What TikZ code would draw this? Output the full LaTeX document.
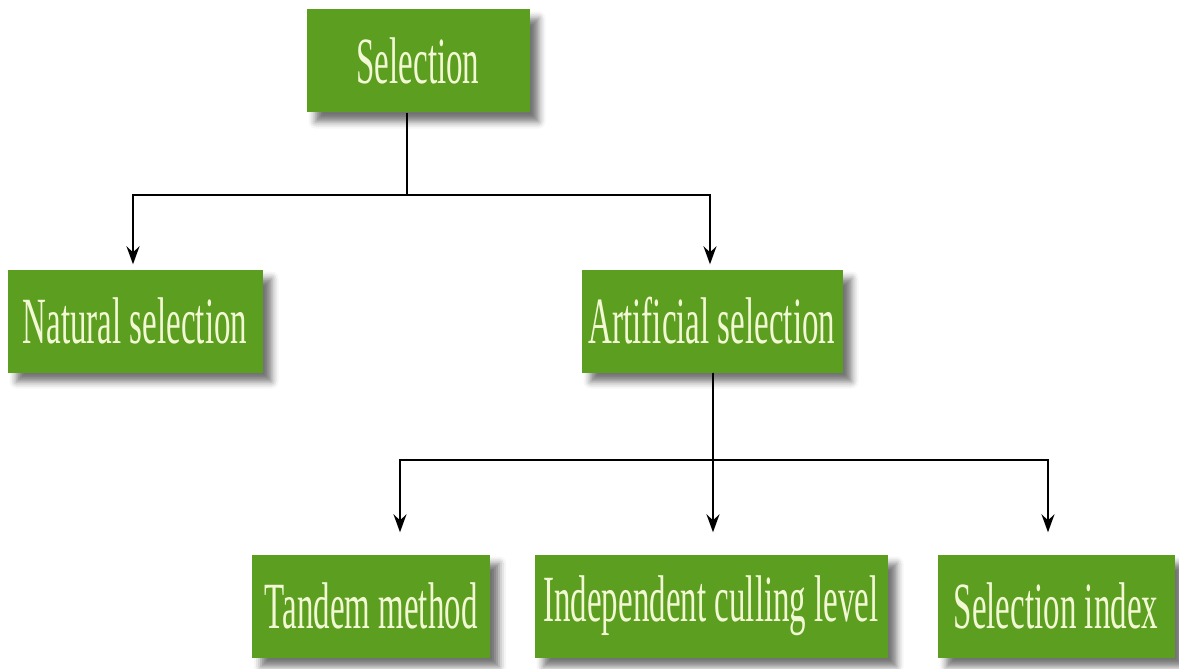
\documentclass[tikz,border=0pt]{standalone}
\usepackage{fontspec}
\newfontfamily\boxfont[FakeStretch=0.5]{Liberation Serif}
\usepackage{xcolor}
\usepackage{tikz}
\usetikzlibrary{arrows.meta,shadows.blur}
\definecolor{selgreen}{RGB}{92,158,32}
\definecolor{seltext}{RGB}{242,248,212}
\tikzset{
  sel_n/.style = {rectangle, fill=selgreen, text=seltext, minimum height=103pt, inner sep=0pt, align=center, font=\boxfont\fontsize{66}{66}\selectfont, blur shadow={shadow xshift=9pt, shadow yshift=-9pt, shadow blur radius=7pt, shadow opacity=55}},
  sel_a/.style = {line width=1.8pt, -{Stealth[length=18pt,width=13pt,inset=6pt]}}
}
\begin{document}
\begin{tikzpicture}[x=1pt,y=-1pt]
  \useasboundingbox (0,0) rectangle (1179,669);
  % boxes
  \node[sel_n, minimum width=223pt] (sel) at (418,61) {Selection};
  \node[sel_n, minimum width=255pt] (nat) at (135,321) {Natural selection};
  \node[sel_n, minimum width=261pt] (art) at (712,321) {Artificial selection};
  \node[sel_n, minimum width=238pt] (tan) at (371,606) {Tandem method};
  \node[sel_n, minimum width=353pt] (ind) at (711,606) {Independent culling level};
  \node[sel_n, minimum width=237pt] (idx) at (1056,606) {Selection index};
  % connectors
  \draw[sel_a, shorten >=5pt] ([xshift=-11pt]sel.south) -- ++(0,82) -| ([xshift=-2pt]nat.north);
  \draw[sel_a, shorten >=5pt] ([xshift=-11pt]sel.south) -- ++(0,82) -| ([xshift=-2pt]art.north);
  \draw[sel_a, shorten >=22pt] ([xshift=1pt]art.south) -- ++(0,87) -| ([xshift=29pt]tan.north);
  \draw[sel_a, shorten >=22pt] ([xshift=1pt]art.south) -- ([xshift=2pt]ind.north);
  \draw[sel_a, shorten >=22pt] ([xshift=1pt]art.south) -- ++(0,87) -| ([xshift=-8pt]idx.north);
\end{tikzpicture}
\end{document}
